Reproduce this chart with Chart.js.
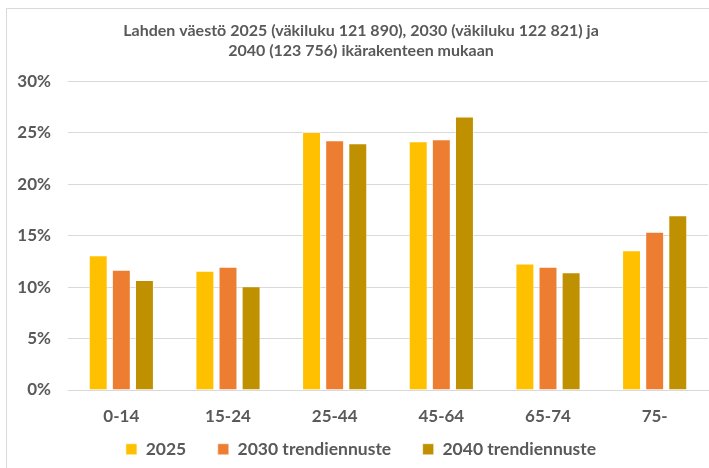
<!DOCTYPE html>
<html>
<head>
<meta charset="utf-8">
<script src="https://cdn.jsdelivr.net/npm/chart.js"></script>
<style>
  html, body { margin: 0; padding: 0; background: #fff; }
  #wrap { position: relative; width: 709px; height: 468px; }
</style>
</head>
<body>
<div id="wrap"><canvas id="myChart" width="709" height="468"></canvas></div>

<script>
// -- Data (percent of population).
const categories = ['0-14', '15-24', '25-44', '45-64', '65-74', '75-'];
const series_names = ['2025', '2030 trendiennuste', '2040 trendiennuste'];
const values_2025 = [13.1, 11.6, 25.1, 24.2, 12.3, 13.6];
const values_2030 = [11.7, 12.0, 24.3, 24.4, 12.0, 15.4];
const values_2040 = [10.7, 10.1, 24.0, 26.6, 11.45, 17.0];
const title_lines = [
  'Lahden väestö 2025 (väkiluku 121 890), 2030 (väkiluku 122 821) ja',
  '2040 (123 756) ikärakenteen mukaan'
];

const colors = ['#FFC000', '#ED7D31', '#BF9000'];
const text_color = '#595959';
const font_family = 'Lato, "Open Sans", sans-serif';

// -- Thin grey frame round the chart, as in the spreadsheet export.
const frame_plugin = {
  id: 'frame',
  beforeDraw(chart) {
    const ctx = chart.ctx;
    ctx.save();
    ctx.strokeStyle = '#d9d9d9';
    ctx.lineWidth = 1;
    ctx.beginPath();
    ctx.moveTo(6.5, chart.height);
    ctx.lineTo(6.5, 8.5);
    ctx.lineTo(chart.width, 8.5);
    ctx.stroke();
    ctx.restore();
  }
};

const make_dataset = (label, data, i) => ({
  label: label,
  data: data,
  backgroundColor: colors[i],
  borderColor: 'rgba(255, 255, 255, 0.5)',
  borderWidth: 1,
  categoryPercentage: 0.65,
  barPercentage: 0.82,
});

const chart = new Chart(
  document.getElementById('myChart'),
  {
    type: 'bar',
    data: {
      labels: categories,
      datasets: [
        make_dataset(series_names[0], values_2025, 0),
        make_dataset(series_names[1], values_2030, 1),
        make_dataset(series_names[2], values_2040, 2),
      ],
    },
    options: {
      responsive: false,
      animation: false,
      layout: {
        padding: { left: 14, right: 1, top: 20, bottom: 0 },
      },
      scales: {
        x: {
          // -- Chart.js counts tick padding twice; keep only one of them.
          afterFit: (scale) => { scale.height = 36; },
          grid: { display: false, drawTicks: false },
          border: { color: '#d9d9d9' },
          ticks: {
            color: text_color,
            padding: 16,
            font: { family: font_family, size: 17, weight: 'bold' },
          },
        },
        y: {
          min: 0,
          max: 30,
          afterFit: (scale) => { scale.width = 54; },
          grid: { color: '#d9d9d9', drawTicks: false },
          border: { display: false },
          ticks: {
            stepSize: 5,
            color: text_color,
            padding: 17,
            font: { family: font_family, size: 17, weight: 'bold' },
            callback: (v) => v + '%',
          },
        },
      },
      plugins: {
        title: {
          display: true,
          text: title_lines,
          color: text_color,
          font: { family: font_family, size: 16, weight: 'bold', lineHeight: 1.3 },
          padding: { top: 0, bottom: 20 },
        },
        legend: {
          position: 'bottom',
          labels: {
            color: text_color,
            boxWidth: 11,
            boxHeight: 11,
            padding: 14.5,
            font: { family: font_family, size: 17.5, weight: 'bold' },
            // -- Trailing spaces widen the gap between legend items.
            generateLabels: (c) => {
              const items = Chart.defaults.plugins.legend.labels.generateLabels(c);
              items.forEach((item, i) => {
                if (i < items.length - 1) item.text = item.text + '    ';
              });
              return items;
            },
          },
        },
        tooltip: { enabled: false },
      },
    },
    plugins: [frame_plugin],
  }
);
</script>
</body>
</html>
